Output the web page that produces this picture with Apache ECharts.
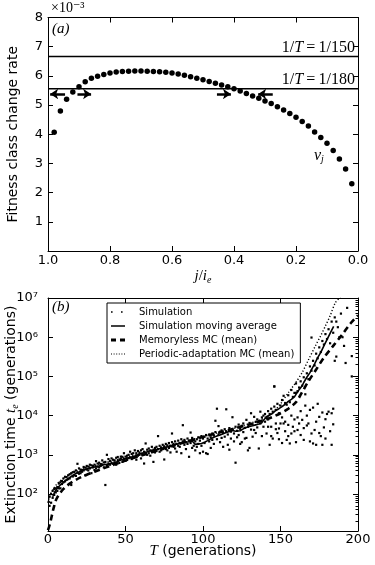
<!DOCTYPE html>
<html><head><meta charset="utf-8">
<script src="https://cdn.jsdelivr.net/npm/echarts@6/dist/echarts.min.js"></script>
<style>html,body{margin:0;padding:0;background:#fff}#c{width:375px;height:565px}</style>
</head><body><div id="c"></div>
<script>
// ---------- Panel (a) data ----------
const rateX = [0.98,0.96,0.94,0.92,0.90,0.88,0.86,0.84,0.82,0.80,0.78,0.76,0.74,0.72,0.70,0.68,0.66,0.64,0.62,0.60,0.58,0.56,0.54,0.52,0.50,0.48,0.46,0.44,0.42,0.40,0.38,0.36,0.34,0.32,0.30,0.28,0.26,0.24,0.22,0.20,0.18,0.16,0.14,0.12,0.10,0.08,0.06,0.04,0.02];
const rateV = [0.00407,0.00480,0.00520,0.00545,0.00563,0.00580,0.00592,0.00599,0.00605,0.00610,0.00613,0.00615,0.00616,0.00617,0.00617,0.00616,0.00615,0.00614,0.00612,0.00610,0.00606,0.00602,0.00597,0.00592,0.00587,0.00581,0.00575,0.00569,0.00563,0.00556,0.00548,0.00540,0.00531,0.00523,0.00514,0.00505,0.00494,0.00483,0.00471,0.00458,0.00444,0.00428,0.00408,0.00389,0.00369,0.00344,0.00315,0.00281,0.00230];
const periodsT = [150, 180];
const arrowY = 0.00538;
const arrowSegments = [[0.945,0.993],[0.905,0.861],[0.455,0.410],[0.275,0.322]];
const yTicksA = [0,1,2,3,4,5,6,7,8];

// ---------- Panel (b) data ----------
const simulation = [
[0.5,63],[1,85],[1,50],[2,100],[2,60],[3,120],[3,80],[4,135],[4,95],[5,140],[5,110],[6,150],[6,120],[7,185],[7,140],[8,200],[8,140],[9,215],[9,180],[10,250],[10,200],
[11,275],[11,210],[12,270],[12,230],[13,300],[13,240],[14,320],[14,250],[15,340],[15,170],[16,360],[16,280],[17,370],[17,300],[18,400],[18,290],[19,590],[19,350],[20,450],[20,330],
[21,420],[21,340],[22,410],[22,370],[23,490],[23,400],[24,470],[24,300],[25,520],[25,420],[26,500],[26,400],[27,560],[27,450],[28,540],[28,340],[29,520],[29,480],[30,560],[30,410],
[31,690],[31,450],[32,600],[32,500],[33,630],[33,480],[34,580],[34,520],[35,720],[35,560],[36,640],[36,480],[37,170],[37,660],[38,1000],[38,540],[39,780],[39,600],[40,700],[40,560],
[41,810],[41,620],[42,750],[42,590],[43,720],[43,640],[44,840],[44,560],[45,880],[45,700],[46,760],[46,620],[47,900],[47,800],[48,890],[48,660],[49,1100],[49,780],[50,900],[50,700],
[51,950],[51,760],[52,1000],[52,820],[53,1200],[53,850],[54,1050],[54,780],[55,1100],[55,860],[56,1300],[56,900],[57,1100],[57,750],[58,1250],[58,950],[59,1150],[59,1000],[60,1300],[60,810],
[61,1400],[61,1000],[62,600],[62,1200],[63,1950],[63,1100],[64,1350],[64,1000],[65,1450],[65,1100],[66,1300],[66,950],[67,1600],[67,1200],[68,660],[68,1350],[69,1500],[69,1150],[70,1600],[70,1250],
[71,3000],[71,1400],[72,1700],[72,1200],[73,1550],[73,1300],[74,1800],[74,1400],[75,760],[75,1650],[76,1900],[76,1400],[77,1750],[77,1300],[78,2000],[78,1500],[79,1700],[79,1150],[80,2100],[80,3500],
[81,1600],[81,1900],[82,2200],[82,1450],[83,1900],[83,1200],[84,2300],[84,1700],[85,2000],[85,1600],[86,2500],[86,1100],[87,5700],[87,2200],[88,2400],[88,1800],[89,2100],[89,1400],[90,2600],[90,1900],
[91,890],[91,2300],[92,3700],[92,2000],[93,2700],[93,1500],[94,2400],[94,1700],[95,2200],[95,1300],[96,2500],[96,1600],[97,2800],[97,1900],[98,1100],[98,2300],[99,3000],[99,1700],[100,2600],[100,1200],
[101,2900],[101,2000],[102,1100],[102,3200],[103,2600],[103,1050],[104,3300],[104,2200],[105,2800],[105,1500],[106,3500],[106,2400],[107,3100],[107,1900],[108,7400],[108,3800],[109,2500],[109,15000],[110,5400],[110,3300],
[111,3900],[111,2100],[112,4200],[112,2700],[113,3600],[113,1600],[114,4500],[114,2900],[115,14500],[115,4000],[116,3300],[116,1800],[117,1350],[117,4800],[118,3900],[118,2600],[119,9100],[119,4400],[120,3500],[120,2200],
[121,5200],[121,630],[122,4100],[122,2800],[123,5900],[123,3200],[124,4600],[124,1900],[125,2100],[125,5500],[126,6300],[126,3800],[127,4900],[127,2600],[128,7800],[128,2700],[129,1300],[129,5200],[130,6500],[130,1500],
[131,11500],[131,4400],[132,6000],[132,2900],[133,9300],[133,4300],[134,6900],[134,3600],[135,8000],[135,5000],[136,1450],[136,7200],[137,12600],[137,6300],[138,9000],[138,3000],[139,5200],[139,10000],[140,11000],[140,7000],
[141,9300],[141,3500],[142,13000],[142,5200],[143,11000],[143,1800],[144,15000],[144,5200],[145,12600],[145,2600],[146,55000],[146,17000],[147,14000],[147,6300],[148,20000],[148,3600],[149,11500],[149,4700],[150,18000],[150,6300],
[151,25000],[151,2000],[152,32000],[152,6300],[153,21000],[153,4000],[154,19000],[154,2400],[155,33000],[155,5800],[156,22000],[156,1950],[157,45000],[157,3500],[158,30000],[158,5200],[159,38000],[159,8000],[160,66000],[160,2100],
[161,42000],[161,4300],[162,52000],[162,6300],[163,75000],[163,3200],[164,58000],[164,7800],[165,95000],[165,4800],[166,35000],[166,18000],[167,120000],[167,10000],[168,85000],[168,6300],[169,180000],[169,14000],[170,140000],[170,3500],
[171,250000],[171,1950],[172,190000],[172,4300],[173,380000],[173,1800],[174,290000],[174,20000],[175,550000],[175,9300],[176,420000],[176,3000],[177,800000],[177,1800],[178,650000],[178,5000],[179,1200000],[179,8100],[180,900000],[180,11000],
[181,1600000],[181,12600],[182,700000],[182,4000],[183,2500000],[183,11500],[184,1300000],[184,6000],[185,3200000],[185,250000],[186,2500000],[186,320000],[187,1800000],[188,1000000],[189,4000000],[190,1000000],[191,600000],[192,220000],[193,5600000],[196,330000],[196,100000],
[142,8000],[144,3000],[147,4500],[149,2500],[151,9000],[153,7000],[155,3000],[157,10000],[159,4000],[161,9000],[163,13000],[165,2400],[167,5600],[169,2200],[171,16000],[173,7000],[175,3600],[177,12000],[179,2600],[183,1800],[184,15000],[170,980000],[146,56000],[160,38000]
];
const movingAvg = [[3,85],[4,105],[5,125],[6,141],[8,170],[9.5,190],[11,215],[13,245],[15,280],[16,300],[18,335],[20,365],[22,400],[24,420],[26,445],[28,470],[31,500],[33,520],[36,560],[39,580],[42,610],[44,650],[46,710],[48,760],[50,810],[53,860],[56,920],[58,1000],[60,1080],[62,1120],[65,1230],[68,1300],[70,1370],[72,1430],[75,1520],[78,1640],[80,1720],[83,1850],[86,1980],[88,2080],[91,2150],[93,2250],[94,2100],[95,1850],[97,1900],[99,1950],[101,2100],[103,2300],[105,2550],[107,2800],[109,3000],[111,3200],[113,3450],[115,3700],[117,3950],[119,4150],[121,4000],[122,3750],[124,4100],[126,4600],[128,5000],[130,5300],[132,5500],[134,5800],[136,6100],[138,6600],[139,7600],[141,9200],[143,10300],[145,11500],[147,13500],[149,15000],[151,17000],[153,19500],[155,23000],[157,26000],[159,30000],[160,35000],[162,46000],[164,58000],[165,70000],[167,95000],[169,125000],[170,150000],[172,210000],[174,300000],[176,410000],[178,600000],[180,870000],[182,1250000],[184.3,1900000]];
const memoryless = [[0,12],[1,16],[2,23],[3,35],[4,50],[5,68],[6,82],[8,108],[10,135],[12,160],[15,195],[18,230],[21,265],[25,310],[30,370],[35,440],[40,520],[45,610],[50,720],[55,830],[60,960],[70,1270],[80,1680],[90,2200],[100,2850],[110,3650],[120,4650],[130,5950],[140,7900],[145,9300],[150,11500],[155,15000],[160,22000],[164,40000],[168,75000],[173,150000],[178,300000],[184,600000],[190,1200000],[195,2200000],[200,3600000]];
const periodic = [[0,60],[1,85],[2,108],[3,126],[5,165],[7.3,210],[10,250],[12,280],[16,340],[20,400],[25,465],[30,530],[35,600],[40,680],[45,760],[50,860],[60,1100],[70,1400],[80,1800],[90,2300],[100,2900],[110,3700],[120,4700],[130,6300],[140,8800],[145,12000],[150,20000],[155,38000],[160,71000],[164,126000],[168,263000],[172.5,600000],[176,1100000],[179,1950000],[182,3500000],[185.4,7600000],[188.6,10500000]];

// ---------- helpers ----------
const sans = 'DejaVu Sans';
const serif = 'Liberation Serif, DejaVu Serif, serif';
const SUP = {'0':'⁰','1':'¹','2':'²','3':'³','4':'⁴','5':'⁵','6':'⁶','7':'⁷','8':'⁸','9':'⁹','-':'⁻'};
const sup = s => String(s).split('').map(c => SUP[c] || c).join('');
const axLine = {show:true, onZero:false, lineStyle:{color:'#000', width:1}};
const axTick = {show:true, inside:true, length:5, lineStyle:{color:'#000', width:1}};
const minor = {show:true, splitNumber:9, length:2.5, lineStyle:{color:'#000', width:1}};
const labelStyle = {color:'#000', fontFamily:sans, fontSize:13};
const box = 'path://M0,0h0.05v0.05h-0.05zM22.95,9.95h0.05v0.05h-0.05z';

const chart = echarts.init(document.getElementById('c'));
chart.setOption({
  animation:false,
  backgroundColor:'#fff',
  grid:[
    {left:48, top:17.5, width:310, height:233.5, outerBoundsMode:'none', containLabel:false},
    {left:48, top:298, width:310, height:233, outerBoundsMode:'none', containLabel:false}
  ],
  xAxis:[
    {gridIndex:0, type:'value', min:0, max:1, interval:0.2, inverse:true, position:'bottom',
     axisLine:axLine, axisTick:axTick, splitLine:{show:false},
     axisLabel:Object.assign({margin:3, formatter:v=>v.toFixed(1)}, labelStyle),
     name:'{it|j}{n|/}{it|i}{sub|e}', nameLocation:'middle', nameGap:16, nameMoveOverlap:false,
     nameTextStyle:{color:'#000', fontFamily:serif, fontSize:15, rich:{
       it:{fontFamily:serif, fontStyle:'italic', fontSize:15, lineHeight:18, verticalAlign:'middle'},
       n:{fontFamily:serif, fontSize:15, lineHeight:18, verticalAlign:'middle'},
       sub:{fontFamily:serif, fontStyle:'italic', fontSize:10, lineHeight:10, verticalAlign:'bottom'}}}},
    {gridIndex:0, type:'value', min:0, max:1, interval:0.2, inverse:true, position:'top',
     axisLine:axLine, axisTick:axTick, axisLabel:{show:false}, splitLine:{show:false}},
    {gridIndex:1, type:'value', min:0, max:200, interval:50, position:'bottom',
     axisLine:axLine, axisTick:axTick, splitLine:{show:false},
     axisLabel:Object.assign({margin:2}, labelStyle),
     name:'{it|T} (generations)', nameLocation:'middle', nameGap:13, nameMoveOverlap:false,
     nameTextStyle:{color:'#000', fontFamily:sans, fontSize:14, rich:{
       it:{fontFamily:serif, fontStyle:'italic', fontSize:15}}}},
    {gridIndex:1, type:'value', min:0, max:200, interval:50, position:'top',
     axisLine:axLine, axisTick:axTick, axisLabel:{show:false}, splitLine:{show:false}}
  ],
  yAxis:[
    {gridIndex:0, type:'value', min:0, max:0.008, interval:0.001, position:'left',
     axisLine:axLine, axisTick:axTick, splitLine:{show:false},
     axisLabel:Object.assign({margin:5, showMinLabel:false, formatter:v=>String(yTicksA[Math.round(v*1000)])}, labelStyle),
     name:'Fitness class change rate', nameLocation:'middle', nameGap:28, nameMoveOverlap:false,
     nameTextStyle:{color:'#000', fontFamily:sans, fontSize:14}},
    {gridIndex:0, type:'value', min:0, max:0.008, interval:0.001, position:'right',
     axisLine:axLine, axisTick:axTick, axisLabel:{show:false}, splitLine:{show:false}},
    {gridIndex:1, type:'log', logBase:10, min:11.4, max:1e7, position:'left',
     axisLine:axLine, axisTick:axTick, splitLine:{show:false},
     axisLabel:Object.assign({margin:10, showMinLabel:false, formatter:v=>'10'+sup(Math.round(Math.log10(v)))}, labelStyle),
     name:'Extinction time {it|t}{sub|e} (generations)', nameLocation:'middle', nameGap:28, nameMoveOverlap:false,
     nameTextStyle:{color:'#000', fontFamily:sans, fontSize:14, rich:{
       it:{fontFamily:serif, fontStyle:'italic', fontSize:15, lineHeight:18, verticalAlign:'middle'},
       sub:{fontFamily:serif, fontStyle:'italic', fontSize:10, lineHeight:10, verticalAlign:'bottom'}}}},
    {gridIndex:1, type:'log', logBase:10, min:11.4, max:1e7, position:'right',
     axisLine:axLine, axisTick:axTick, minorTick:minor, axisLabel:{show:false}, splitLine:{show:false}}
  ],
  legend:{
    orient:'vertical', left:107, top:303, padding:[4,6,4,4], itemGap:4, itemWidth:23, itemHeight:10,
    borderColor:'#000', borderWidth:1, borderRadius:0, backgroundColor:'#fff',
    textStyle:{fontFamily:sans, fontSize:10, color:'#000'},
    data:[
      {name:'Simulation', icon:box+'M0,4.2h1.6v1.6h-1.6zM10,4.2h1.6v1.6h-1.6z'},
      {name:'Simulation moving average', icon:box+'M0,4.2h14v1.6h-14z'},
      {name:'Memoryless MC (mean)', icon:box+'M0,3.6h5v2.8h-5zM9,3.6h5v2.8h-5z'},
      {name:'Periodic-adaptation MC (mean)', icon:box+'M0,4.5h1v1h-1zM2.6,4.5h1v1h-1zM5.2,4.5h1v1h-1zM7.8,4.5h1v1h-1zM10.4,4.5h1v1h-1zM13,4.5h1v1h-1z'}
    ]
  },
  graphic:[
    {type:'text', left:51, top:1, style:{text:'×10'+sup('-3'), font:'14px '+serif, fill:'#000'}},
    {type:'text', left:52, top:22, style:{text:'(a)', font:'italic 15px '+serif, fill:'#000'}},
    {type:'text', left:52, top:300, style:{text:'(b)', font:'italic 15px '+serif, fill:'#000'}},
    {type:'text', left:314, top:148, style:{text:'{v|v}{j|j}', rich:{
      v:{font:'italic 16px '+serif, fill:'#000', lineHeight:16, verticalAlign:'middle'},
      j:{font:'italic 10px '+serif, fill:'#000', lineHeight:10, verticalAlign:'bottom'}}}}
  ],
  series:[
    {name:'vj', type:'scatter', xAxisIndex:0, yAxisIndex:0, symbol:'circle', symbolSize:5.5,
     itemStyle:{color:'#000', opacity:1}, data:rateX.map((x,i)=>[x, rateV[i]])},
    ...periodsT.map(t => ({
      name:'1/T='+t, type:'line', xAxisIndex:1, yAxisIndex:1, symbol:'none', silent:true,
      lineStyle:{color:'#000', width:1.5}, itemStyle:{color:'#000'},
      data:[[1, 1/t],[0, 1/t]],
      endLabel:{show:true, align:'right', verticalAlign:'bottom', distance:0, offset:[-3,-1],
        color:'#000', fontFamily:serif, fontSize:16,
        formatter:()=>'1/{it|T}\u2009=\u20091/'+t,
        rich:{it:{fontFamily:serif, fontStyle:'italic', fontSize:16}}}
    })),
    {name:'arrows', type:'lines', coordinateSystem:'cartesian2d', xAxisIndex:1, yAxisIndex:1,
     symbol:['none','arrow'], symbolSize:8, silent:true,
     lineStyle:{color:'#000', width:2.5, opacity:1, curveness:0},
     data:arrowSegments.map(s=>({coords:[[s[0],arrowY],[s[1],arrowY]]}))},
    {name:'Simulation', type:'scatter', xAxisIndex:2, yAxisIndex:2, symbol:'rect', symbolSize:2.2,
     itemStyle:{color:'#000', opacity:1}, data:simulation, z:3},
    {name:'Simulation moving average', type:'line', xAxisIndex:2, yAxisIndex:2, symbol:'none',
     lineStyle:{color:'#000', width:1.6, type:'solid'}, itemStyle:{color:'#000'}, data:movingAvg, z:4},
    {name:'Memoryless MC (mean)', type:'line', xAxisIndex:3, yAxisIndex:3, symbol:'none', smooth:0.3,
     lineStyle:{color:'#000', width:2.6, type:[6,4]}, itemStyle:{color:'#000'}, data:memoryless, z:4},
    {name:'Periodic-adaptation MC (mean)', type:'line', xAxisIndex:2, yAxisIndex:2, symbol:'none', smooth:0.3,
     lineStyle:{color:'#000', width:1.4, type:[1.2,2]}, itemStyle:{color:'#000'}, data:periodic, z:4}
  ]
});
</script>
</body></html>
